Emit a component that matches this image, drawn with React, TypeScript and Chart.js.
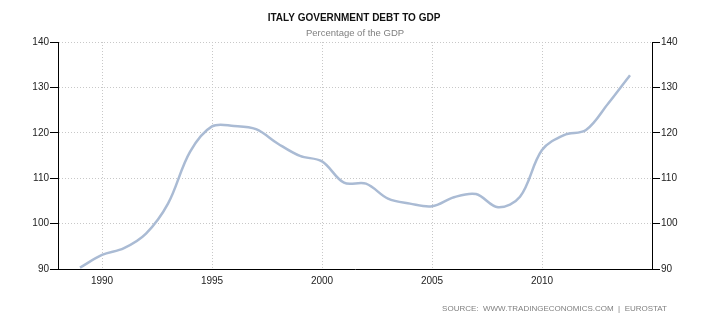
import React, { useEffect, useRef } from "react";
import { Chart, registerables } from "chart.js";

Chart.register(...registerables);

const years = [1989, 1990, 1991, 1992, 1993, 1994, 1995, 1996, 1997, 1998, 1999, 2000, 2001, 2002, 2003, 2004, 2005, 2006, 2007, 2008, 2009, 2010, 2011, 2012, 2013, 2014];
const debtToGdp = [90.3, 93.1, 94.6, 97.8, 104.4, 115.8, 121.4, 121.5, 120.8, 117.6, 114.9, 113.7, 109.0, 108.8, 105.5, 104.4, 103.8, 105.8, 106.5, 103.6, 105.9, 116.2, 119.5, 120.6, 126.4, 132.7];
const xTicks = [1990, 1995, 2000, 2005, 2010];
const yTicks = [90, 100, 110, 120, 130, 140];

const TITLE = "ITALY GOVERNMENT DEBT TO GDP";
const SUBTITLE = "Percentage of the GDP";
const SOURCE = "SOURCE:  WWW.TRADINGECONOMICS.COM  |  EUROSTAT";

const textPlugin = {
  id: "texts",
  afterDraw(chart: any) {
    const ctx = chart.ctx;
    const { left, right } = chart.chartArea;
    const cx = (left + right) / 2;
    ctx.save();
    ctx.textAlign = "center";
    ctx.textBaseline = "middle";
    ctx.fillStyle = "#111";
    ctx.font = "bold 10px 'Liberation Sans', Arial, sans-serif";
    ctx.fillText(TITLE, cx - 1, 18);
    ctx.fillStyle = "#808080";
    ctx.font = "9.5px 'Liberation Sans', Arial, sans-serif";
    ctx.fillText(SUBTITLE, cx, 33);
    ctx.textAlign = "right";
    ctx.font = "8px 'Liberation Sans', Arial, sans-serif";
    ctx.fillText(SOURCE, 667, 309);
    ctx.restore();
  },
};

const tickFont = { family: "'Liberation Sans', Arial, sans-serif", size: 10 };

export default function App() {
  const ref = useRef<HTMLCanvasElement | null>(null);
  useEffect(() => {
    if (!ref.current) return;
    const chart = new Chart(ref.current, {
      type: "line",
      data: {
        datasets: [
          {
            data: years.map((y, i) => ({ x: y, y: debtToGdp[i] })),
            borderColor: "#aabbd4",
            borderWidth: 2.5,
            pointRadius: 0,
            tension: 0.35,
            fill: false,
          },
        ],
      },
      options: {
        animation: false,
        responsive: false,
        maintainAspectRatio: false,
        layout: { padding: { top: 42, left: 0, right: 0, bottom: 0 } },
        plugins: { legend: { display: false }, tooltip: { enabled: false }, title: { display: false } },
        scales: {
          x: {
            type: "linear",
            min: 1988,
            max: 2015,
            afterBuildTicks: (s: any) => {
              s.ticks = xTicks.map((v) => ({ value: v }));
            },
            afterFit: (s: any) => {
              s.height = 56;
            },
            grid: { color: "#c8c8c8", drawTicks: false, lineWidth: 1 },
            border: { color: "#000", width: 1, dash: [1, 2] },
            ticks: { color: "#222", font: tickFont, padding: 6, maxRotation: 0, callback: (v: any) => String(v) },
          },
          y: {
            position: "left",
            min: 90,
            max: 140,
            afterBuildTicks: (s: any) => {
              s.ticks = yTicks.map((v) => ({ value: v }));
            },
            afterFit: (s: any) => {
              s.width = 58;
            },
            grid: { color: "#c8c8c8", tickColor: "#000", tickLength: 8, tickBorderDash: [], lineWidth: 1 },
            border: { color: "#000", width: 1, dash: [1, 2] },
            ticks: { color: "#222", font: tickFont, padding: 1 },
          },
          y2: {
            position: "right",
            min: 90,
            max: 140,
            afterBuildTicks: (s: any) => {
              s.ticks = yTicks.map((v) => ({ value: v }));
            },
            afterFit: (s: any) => {
              s.width = 58;
            },
            grid: { drawOnChartArea: false, color: "#000", tickColor: "#000", tickLength: 8 },
            border: { color: "#000", width: 1 },
            ticks: { color: "#222", font: tickFont, padding: 1 },
          },
        },
      },
      plugins: [textPlugin],
    } as any);
    return () => chart.destroy();
  }, []);
  return (
    <div style={{ position: "absolute", left: 0, top: 0, width: 710, height: 325, background: "#fff" }}>
      <canvas ref={ref} width={710} height={325} style={{ display: "block", width: 710, height: 325 }} />
    </div>
  );
}
